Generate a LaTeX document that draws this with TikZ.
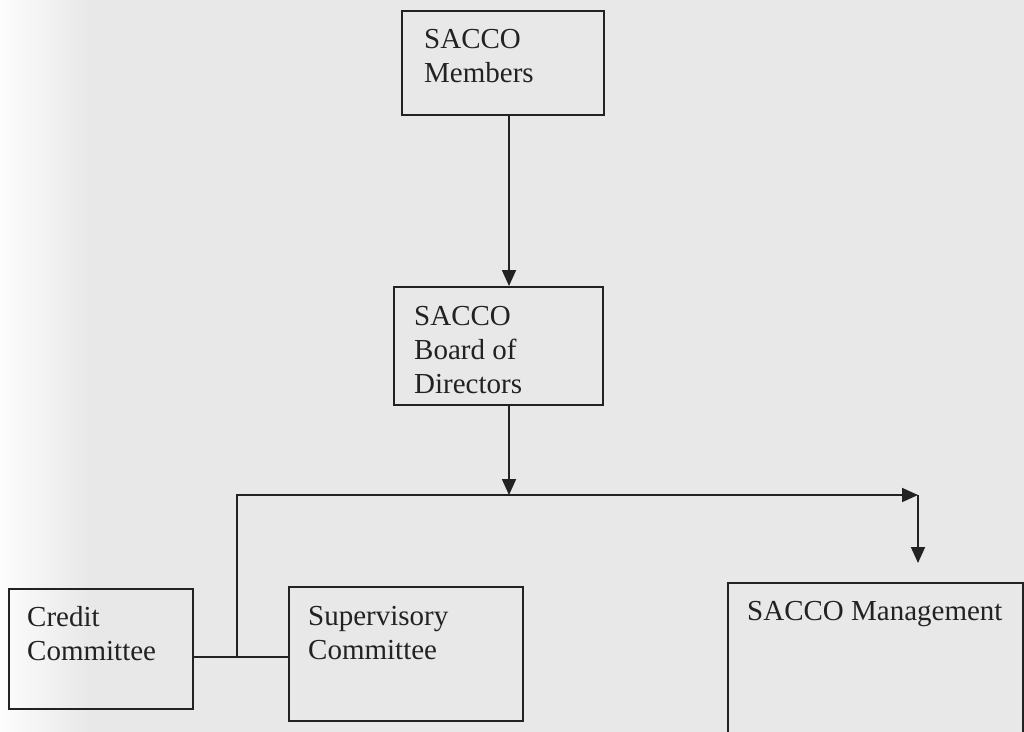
\documentclass[tikz,border=0pt]{standalone}
\usepackage{fontspec}
\setmainfont{Liberation Serif}
\usetikzlibrary{arrows.meta, positioning}
\definecolor{paper}{HTML}{E8E8E8}
\definecolor{ink}{HTML}{222222}

\begin{document}
\begin{tikzpicture}[
  x=1pt, y=-1pt,
  box/.style={rectangle, draw=ink, line width=1.8pt, inner sep=0pt, anchor=north west},
  lbl/.style={inner sep=0pt, align=left, text=ink, font=\fontsize{29}{34}\selectfont},
  link/.style={draw=ink, line width=1.8pt},
  arrow/.style={link, -{Triangle[length=16pt, width=14pt]}}
]
  \useasboundingbox (0,0) rectangle (1024,731);
  \clip (0,0) rectangle (1024,731);
  \fill[paper] (-10,-10) rectangle (1034,741);
  \shade[left color=white, right color=paper] (-10,-10) rectangle (90,741);

  % boxes
  \node[box, minimum width=202pt, minimum height=104pt] (members) at (401,10) {};
  \node[lbl, below right=19pt and 23pt of members.north west] (members-txt) {SACCO\\Members};
  \node[box, minimum width=209pt, minimum height=118pt] (board) at (393,286) {};
  \node[lbl, below right=20pt and 21pt of board.north west] (board-txt) {SACCO\\Board of\\Directors};
  \node[box, minimum width=184pt, minimum height=120pt] (credit) at (8,588) {};
  \node[lbl, below right=18pt and 19pt of credit.north west] (credit-txt) {Credit\\Committee};
  \node[box, minimum width=234pt, minimum height=134pt] (superv) at (288,586) {};
  \node[lbl, below right=20pt and 20pt of superv.north west] (superv-txt) {Supervisory\\Committee};
  \node[box, minimum width=295pt, minimum height=170pt] (mgmt) at (727,582) {};
  \node[lbl, below right=19pt and 20pt of mgmt.north west] (mgmt-txt) {SACCO Management};

  % connectors
  \coordinate (split) at (509,495);
  \coordinate (east) at (918,495);
  \coordinate (west) at (237,495);
  \coordinate (drop) at (918,563);
  \coordinate (joint) at (237,657);

  \draw[arrow] (members.south -| split) -- (board.north -| split);
  \draw[arrow] (board.south -| split) -- (split);
  \draw[arrow] (split) -- (east);
  \draw[arrow] (east) -- (drop);
  \draw[link] (split) -- (west) -- (joint);
  \draw[link] (credit.east |- joint) -- (superv.west |- joint);
\end{tikzpicture}
\end{document}
